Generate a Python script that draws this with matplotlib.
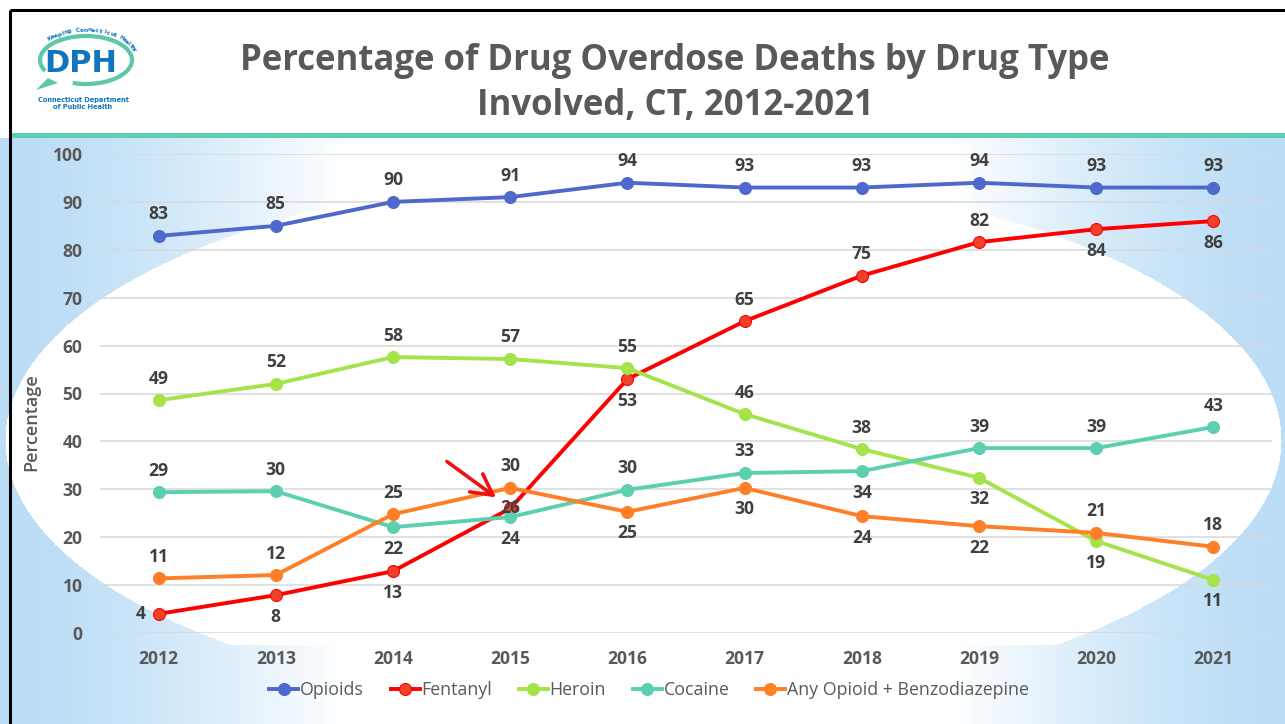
import numpy as np
import matplotlib
matplotlib.use('Agg')
import matplotlib.pyplot as plt
from matplotlib.patches import Rectangle, Arc, Polygon

plt.rcParams['font.family'] = ['Open Sans', 'DejaVu Sans']

# data
years = ['2012', '2013', '2014', '2015', '2016', '2017', '2018', '2019', '2020', '2021']
opioids = [82.9, 85.0, 90.0, 91.0, 94.0, 93.0, 93.0, 94.0, 93.0, 93.0]
fentanyl = [4.0, 7.9, 12.9, 26.0, 53.0, 65.1, 74.6, 81.6, 84.3, 86.0]
heroin = [48.6, 52.0, 57.6, 57.2, 55.3, 45.7, 38.4, 32.4, 19.2, 11.1]
cocaine = [29.4, 29.6, 22.1, 24.2, 29.9, 33.4, 33.8, 38.6, 38.6, 43.0]
benzo = [11.4, 12.1, 24.8, 30.3, 25.3, 30.3, 24.4, 22.3, 20.9, 18.0]

series_names = ['Opioids', 'Fentanyl', 'Heroin', 'Cocaine', 'Any Opioid + Benzodiazepine']

# where each data label sits: a=above, b=below, c=centre, l=left
pos_opioids = ['a'] * 10
pos_fentanyl = ['l', 'b', 'b', 'c', 'b', 'a', 'a', 'a', 'b', 'b']
pos_heroin = ['a', 'a', 'a', 'a', 'a', 'a', 'a', 'b', 'b', 'b']
pos_cocaine = ['a', 'a', 'b', 'b', 'a', 'a', 'b', 'a', 'a', 'a']
pos_benzo = ['a', 'a', 'a', 'a', 'b', 'b', 'b', 'b', 'a', 'a']

W, H = 1285, 724
fig = plt.figure(figsize=(W / 100, H / 100), dpi=100)

# ---- slide background (pixel coordinates, y down) ----
bg = fig.add_axes([0, 0, 1, 1])
yy, xx = np.mgrid[0:H, 0:W]
edge = np.minimum(xx - 10, W - xx)
t = np.clip(edge / 330.0, 0, 1) ** 1.5
blue = np.array([187, 221, 246]) / 255.0
img = blue[None, None, :] * (1 - t)[..., None] + t[..., None]
inside = ((xx - 643) / 638.0) ** 2 + ((yy - 440) / 268.0) ** 2 <= 1
img[inside & (yy < 645)] = 1.0
img[yy < 138] = 1.0
bg.imshow(img, extent=(0, W, H, 0), aspect='auto', interpolation='bilinear')
bg.set_xlim(0, W)
bg.set_ylim(H, 0)
bg.axis('off')

# teal rule under the title and the black slide frame
bg.add_patch(Rectangle((10, 133), W - 10, 5, color='#5DCFB0', lw=0))
bg.plot([9.5, 9.5], [9.5, H], color='black', lw=2.2, solid_capstyle='butt')
bg.plot([9.5, W], [9.5, 9.5], color='black', lw=2.2, solid_capstyle='butt')

# DPH logo
teal = '#5BC8A8'
dph_blue = '#0F75BC'
bg.add_patch(Arc((86, 60), 92, 48, theta1=165, theta2=480, color=teal, lw=3))
bg.add_patch(Polygon([[48, 78], [36, 90], [58, 83]], closed=True, color=teal, lw=0))
bg.text(81, 63, 'DPH', color=dph_blue, fontsize=22, fontweight='bold',
        family='DejaVu Sans', ha='center', va='center')
arc_text = 'Keeping Connecticut Healthy'
phis = np.linspace(np.radians(135), np.radians(20), len(arc_text))
for ch, phi in zip(arc_text, phis):
    px = 86 + 51 * np.cos(phi)
    py = 60 - 30 * np.sin(phi)
    rot = np.degrees(np.arctan2(-30 * np.cos(phi), 51 * np.sin(phi)))
    bg.text(px, py, ch, color=dph_blue, fontsize=4.2, fontweight='bold',
            family='DejaVu Sans', ha='center', va='center', rotation=rot)
bg.text(83, 100, 'Connecticut Department', color=dph_blue, fontsize=4.8,
        fontweight='bold', family='DejaVu Sans', ha='center', va='center')
bg.text(83, 107, 'of Public Health', color=dph_blue, fontsize=4.8,
        fontweight='bold', family='DejaVu Sans', ha='center', va='center')

# title
bg.text(675, 70, 'Percentage of Drug Overdose Deaths by Drug Type', color='#595959',
        fontsize=25, fontweight='bold', ha='center', va='baseline')
bg.text(675, 115, 'Involved, CT, 2012-2021', color='#595959',
        fontsize=25, fontweight='bold', ha='center', va='baseline')

# ---- the chart ----
ax = fig.add_axes([100 / W, 1 - 633 / H, 1172 / W, 479 / H])
ax.set_facecolor('none')

colors = ['#4F68CB', '#FF0000', '#A5E34B', '#5BCFB0', '#FF7F27']
face = ['#4F68CB', '#F0412B', '#A5E34B', '#5BCFB0', '#FF7F27']
all_vals = [opioids, fentanyl, heroin, cocaine, benzo]
all_pos = [pos_opioids, pos_fentanyl, pos_heroin, pos_cocaine, pos_benzo]

x = np.arange(len(years))
for vals, name, c, fc in zip(all_vals, series_names, colors, face):
    ax.plot(x, vals, color=c, lw=2.8, marker='o', markersize=8.6,
            markerfacecolor=fc, markeredgecolor=c, markeredgewidth=0.8, label=name)

offsets = {'a': (0, 15.5), 'b': (0, -15.5), 'c': (0, 0), 'l': (-13, 0)}
for vals, poss in zip(all_vals, all_pos):
    for xi, v, p in zip(x, vals, poss):
        ax.annotate(f'{v:.0f}', (xi, v), xytext=offsets[p], textcoords='offset points',
                    ha='center', va='center', fontsize=12.6, fontweight='bold',
                    color='#404040', zorder=5)

# red arrow pointing at the fentanyl/cocaine crossing
ax.annotate('', xy=(2.88, 28.3), xytext=(2.46, 35.8),
            arrowprops=dict(arrowstyle='->,head_length=0.75,head_width=0.4',
                            color='#F01010', lw=2.6, mutation_scale=20,
                            shrinkA=0, shrinkB=0))

ax.set_xlim(-0.5, 9.5)
ax.set_ylim(0, 100)
ax.set_xticks(x)
ax.set_xticklabels(years)
ax.set_yticks(range(0, 101, 10))
ax.grid(axis='y', color='#D9D9D9', lw=1.1)
ax.set_axisbelow(True)
for s in ax.spines.values():
    s.set_visible(False)
ax.tick_params(axis='both', length=0, labelsize=12.6, labelcolor='#595959')
ax.tick_params(axis='x', pad=12)
ax.tick_params(axis='y', pad=12.5)
for lab in ax.get_xticklabels() + ax.get_yticklabels():
    lab.set_fontweight('bold')

ax.set_ylabel('Percentage', fontsize=13, color='#595959', va='center', fontweight='semibold')
ax.yaxis.set_label_coords(-0.0589, 0.44)

ax.legend(loc='center', bbox_to_anchor=(649 / W, 1 - 690 / H), bbox_transform=fig.transFigure,
          ncol=5, frameon=False, fontsize=12.8, handlelength=1.63, handletextpad=0.1,
          columnspacing=1.5, labelcolor='#595959')

fig.savefig('out.png', dpi=100)
